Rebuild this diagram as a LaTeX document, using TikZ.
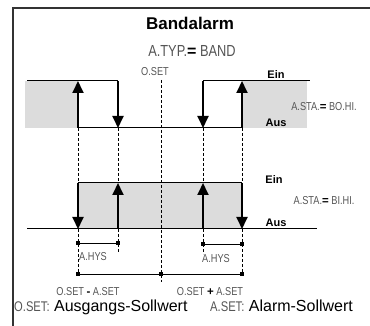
\documentclass[tikz,border=0pt]{standalone}
\usepackage{fontspec}
\setmainfont{Liberation Sans}
\newfontfamily\segfont[FakeStretch=0.8]{Liberation Sans}
\usetikzlibrary{arrows.meta}
\definecolor{bandgrey}{HTML}{DCDCDC}
\definecolor{segtext}{HTML}{555555}
\newcommand\segop[1]{{\normalfont\bfseries\color{black}#1}}
\tikzset{
  frame/.style={line width=1.2pt,draw=black!80},
  wave/.style={line width=1pt},
  switch/.style={line width=1.8pt,-{Triangle[width=11pt,length=12pt]}},
  guide/.style={line width=0.7pt,dash pattern=on 3pt off 2pt},
  dimline/.style={line width=0.8pt},
  endmark/.style={fill=black,minimum size=4pt,inner sep=0pt},
  statelbl/.style={font=\bfseries\fontsize{11}{13}\selectfont,inner sep=0pt,anchor=base},
  seglbl/.style={text=segtext,inner sep=0pt,anchor=base},
  segS/.style={seglbl,font=\segfont\fontsize{11.5}{13}\selectfont},
  segL/.style={seglbl,font=\segfont\fontsize{16}{18}\selectfont},
}
\begin{document}
\begin{tikzpicture}[x=1pt,y=-1pt]
\useasboundingbox (0,0) rectangle (370,326);
\draw[frame] (370,8) -- (13,8) -- (13,326);

% grey bands
\fill[bandgrey] (25,81) rectangle (78,128);
\fill[bandgrey] (242,81) rectangle (307,128);
\fill[bandgrey] (78,183) rectangle (242,229);

% switching points: 1/2 upper high/low, 3/4 lower high/low
\foreach \n/\x in {a/78,b/118,c/161,d/203,e/242}{
  \coordinate (\n1) at (\x,81);
  \coordinate (\n2) at (\x,128);
  \coordinate (\n3) at (\x,183);
  \coordinate (\n4) at (\x,229);
}
\coordinate (ul) at (27,81);
\coordinate (ur) at (310,81);
\coordinate (ll) at (27,229);
\coordinate (lr) at (317,229);
\coordinate (ctop) at (161,80);
\coordinate (cbot) at (161,282);
\coordinate (bend) at (118,253);
\coordinate (dend) at (203,254);

% marks for hysteresis and band
\node[endmark] (h1) at (78,243) {};
\node[endmark] (h2) at (118,243) {};
\node[endmark] (h3) at (203,244) {};
\node[endmark] (h4) at (242,244) {};
\node[endmark] (m1) at (78,274) {};
\node[endmark] (m2) at (161,274) {};
\node[endmark] (m3) at (242,274) {};

% guides
\draw[guide] (ctop) -- (cbot);
\foreach \n in {a,b,d,e}
  \draw[guide] (\n2) -- (\n3);
\draw[guide] (a4) -- (m1);
\draw[guide] (b4) -- (bend);
\draw[guide] (d4) -- (dend);
\draw[guide] (e4) -- (m3);

\draw[dimline] (h1) -- (h2);
\draw[dimline] (h3) -- (h4);
\draw[dimline] (m1) -- (m2) -- (m3);

% upper curve (BO.HI.)
\draw[wave] (ul) -- (b1);
\draw[wave] (a2) -- (e2);
\draw[wave] (d1) -- (ur);
\draw[switch] (a2) -- (a1);
\draw[switch] (b1) -- (b2);
\draw[switch] (d1) -- (d2);
\draw[switch] (e2) -- (e1);

% lower curve (BI.HI.)
\draw[wave] (ll) -- (lr);
\draw[wave] (a3) -- (e3);
\draw[switch] (a3) -- (a4);
\draw[switch] (b4) -- (b3);
\draw[switch] (d4) -- (d3);
\draw[switch] (e3) -- (e4);

% texts
\node[font=\bfseries\fontsize{17}{20}\selectfont,inner sep=0pt,anchor=base] (title) at (190,30) {Bandalarm};
\node[segL] (atyp) at (192,57) {A.TYP.\segop{=} BAND};
\node[segS] (oset) at (155,76) {O.SET};
\node[statelbl] (ein1) at (276,79) {Ein};
\node[segS] (sta1) at (324,111) {A.STA.\segop{=} BO.HI.};
\node[statelbl] (aus1) at (276,127) {Aus};
\node[statelbl] (ein2) at (274,184) {Ein};
\node[segS] (sta2) at (324,205) {A.STA.\segop{=} BI.HI.};
\node[statelbl] (aus2) at (276,227) {Aus};
\node[segS] (hys1) at (93,261) {A.HYS};
\node[segS] (hys2) at (216,263) {A.HYS};
\node[segS] (lo) at (88,295) {O.SET \segop{-} A.SET};
\node[segS] (hi) at (210,295) {O.SET \segop{+} A.SET};
\node[inner sep=0pt,anchor=base west,font=\fontsize{16}{18}\selectfont] (leg1) at (14,312) {{\segfont\fontsize{14}{16}\selectfont\color{segtext}O.SET:} Ausgangs-Sollwert};
\node[inner sep=0pt,anchor=base west,font=\fontsize{16}{18}\selectfont] (leg2) at (210,312) {{\segfont\fontsize{14}{16}\selectfont\color{segtext}A.SET:} Alarm-Sollwert};
\end{tikzpicture}
\end{document}
